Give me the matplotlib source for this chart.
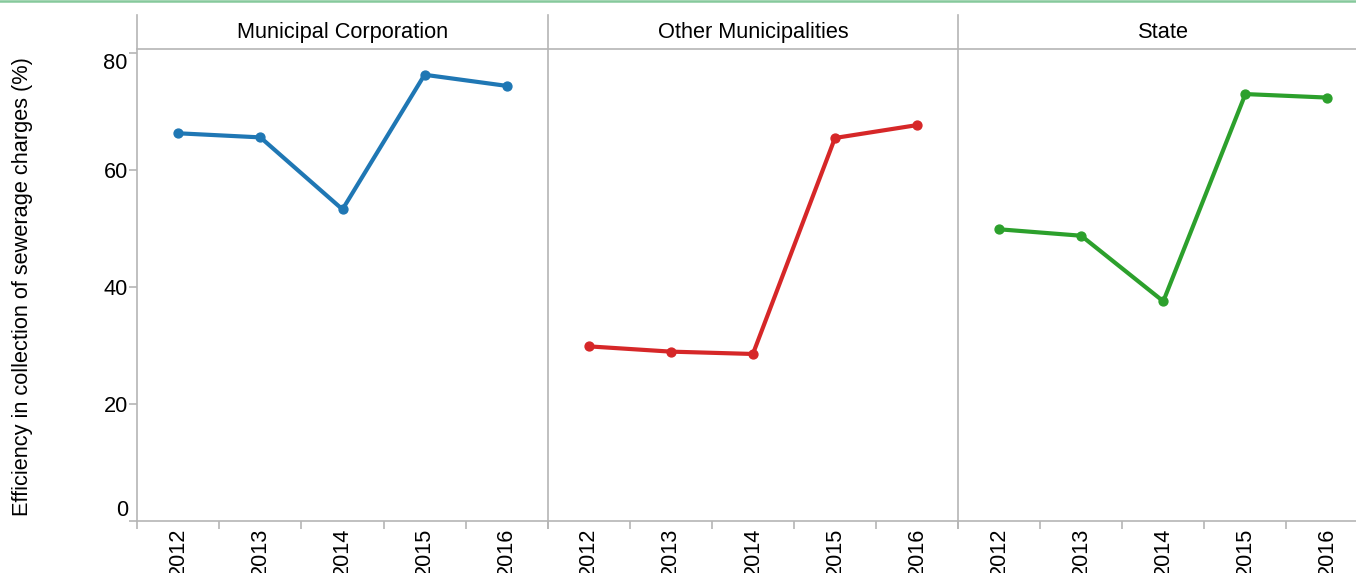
import matplotlib
matplotlib.use("Agg")
import matplotlib.pyplot as plt
from matplotlib.lines import Line2D

# ---- data ----
years = ["2012", "2013", "2014", "2015", "2016"]
facets = ["Municipal Corporation", "Other Municipalities", "State"]
municipal_corporation = [66.2, 65.5, 53.2, 76.2, 74.3]
other_municipalities = [29.8, 28.9, 28.5, 65.4, 67.6]
state = [49.8, 48.7, 37.5, 72.9, 72.3]
series = [municipal_corporation, other_municipalities, state]
colors = ["#1f77b4", "#d62728", "#2ca02c"]
y_ticks = [0, 20, 40, 60, 80]
y_title = "Efficiency in collection of sewerage charges (%)"

plt.rcParams['font.family'] = ['Liberation Sans', 'DejaVu Sans']

W, H = 1356, 573
fig = plt.figure(figsize=(W / 100, H / 100), dpi=100)

GRAY = "#b5b5b5"
FS = 15.7
LW = 1.2

def fx(px):
    return px / W

def fy(py):
    return 1 - py / H

left0 = 137.3
step = 410.4
top_px = 49.0
bot_px = 520.8
hdr_top = 15.0

axes = []
for i, (name, vals, col) in enumerate(zip(facets, series, colors)):
    l = left0 + step * i
    ax = fig.add_axes([fx(l), fy(bot_px), step / W, (bot_px - top_px) / H])
    ax.set_xlim(-0.5, len(years) - 0.5)
    ax.set_ylim(0, 80.6)
    ax.plot(range(len(years)), vals, color=col, lw=3.0, marker='o',
            markersize=6.4, solid_capstyle='round', solid_joinstyle='round',
            clip_on=False, zorder=3)
    for s in ax.spines.values():
        s.set_visible(False)
    ax.set_xticks(range(len(years)))
    ax.set_xticklabels(years, rotation=90, fontsize=FS, va='top', ha='center')
    ax.set_xticks([k - 0.5 for k in range(len(years) + 1)], minor=True)
    ax.tick_params(axis='x', which='major', length=0, pad=5.0, colors='black')
    ax.tick_params(axis='x', which='minor', length=5.8, width=LW, color=GRAY)
    if i == 0:
        ax.set_yticks(y_ticks)
        ax.set_yticklabels([str(t) for t in y_ticks], fontsize=FS)
        ax.tick_params(axis='y', length=5.8, width=LW, color=GRAY, pad=1.0)
        labs = ax.get_yticklabels()
        labs[0].set_va('bottom')
        labs[-1].set_va('top')
    else:
        ax.set_yticks([])
    ax.patch.set_alpha(0)
    # header text
    fig.text(fx(l + step / 2), fy(32.5), name, ha='center', va='center',
             fontsize=FS, color='black')
    # vertical panel border
    fig.add_artist(Line2D([fx(l), fx(l)], [fy(hdr_top), fy(bot_px)],
                          color=GRAY, lw=LW))
    axes.append(ax)

# header bottom line and x-axis line
fig.add_artist(Line2D([fx(left0), 1], [fy(top_px), fy(top_px)], color=GRAY, lw=LW))
fig.add_artist(Line2D([fx(left0), 1], [fy(bot_px), fy(bot_px)], color=GRAY, lw=LW))

# y-axis title
fig.text(fx(22.5), fy((top_px + bot_px) / 2 + 2), y_title, rotation=90,
         ha='center', va='center', fontsize=FS, color='black')

# top green border
fig.add_artist(Line2D([0, 1], [fy(1), fy(1)], color="#86c99c", lw=1.8))

fig.savefig("out.png", dpi=100)
